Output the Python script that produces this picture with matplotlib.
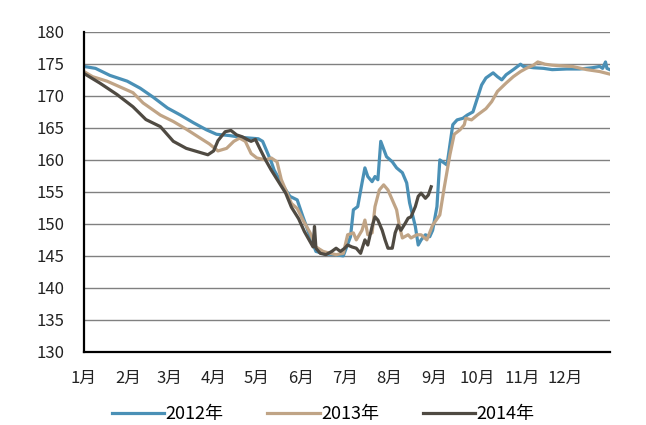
import matplotlib
matplotlib.use("Agg")
import matplotlib.pyplot as plt

plt.rcParams['font.family'] = ['Noto Sans CJK SC', 'DejaVu Sans']

## data (day of year, value)
days_2012 = [0, 8, 18, 30, 39, 48, 58, 67, 76, 85, 92, 101, 110, 121, 124, 127, 130, 132, 138,
             143, 148, 152, 157, 161, 167, 174, 180, 185, 187, 190, 193, 195, 197, 200, 202, 204,
             206, 210, 214, 217, 221, 224, 226, 230, 232, 234, 237, 240, 242, 245, 247, 252, 256,
             259, 263, 266, 270, 276, 279, 284, 287, 290, 293, 298, 303, 305, 312, 319, 325, 335,
             344, 353, 358, 360, 362, 363, 365]
vals_2012 = [174.6, 174.3, 173.2, 172.3, 171.2, 169.8, 168.1, 167.0, 165.8, 164.7, 164.0, 163.8,
             163.5, 163.3, 162.9, 161.3, 159.7, 158.4, 156.0, 154.3, 153.75, 151.1, 148.0, 145.7,
             145.3, 145.2, 145.0, 148.0, 152.2, 152.7, 156.4, 158.75, 157.4, 156.6, 157.4, 156.9,
             162.9, 160.5, 159.7, 158.75, 158.0, 156.4, 153.3, 149.6, 146.7, 147.5, 148.3, 148.0,
             149.0, 152.7, 160.0, 159.2, 165.5, 166.25, 166.5, 167.0, 167.5, 171.7, 172.8, 173.6,
             173.0, 172.5, 173.3, 174.1, 174.95, 174.6, 174.4, 174.3, 174.1, 174.2, 174.2, 174.4,
             174.6, 174.3, 175.3, 174.3, 174.1]

days_2013 = [0, 6, 16, 25, 34, 41, 53, 62, 71, 80, 87, 93, 99, 104, 108, 112, 116, 120, 126, 130,
             134, 137, 141, 144, 148, 152, 157, 161, 166, 171, 175, 180, 183, 187, 189, 193, 195,
             197, 200, 202, 205, 208, 211, 214, 217, 219, 221, 225, 227, 231, 234, 238, 242, 247,
             250, 254, 257, 261, 264, 265, 269, 273, 279, 283, 287, 293, 298, 303, 307, 312, 315,
             320, 325, 332, 339, 349, 358, 365]
vals_2013 = [173.8, 173.0, 172.3, 171.4, 170.5, 168.9, 167.0, 166.0, 164.8, 163.5, 162.5, 161.4,
             161.8, 162.9, 163.4, 162.9, 161.0, 160.3, 160.0, 160.3, 159.7, 156.9, 154.8, 153.2,
             152.4, 150.6, 148.6, 146.4, 145.7, 145.4, 145.2, 145.4, 148.3, 148.6, 147.5, 149.0,
             150.6, 148.3, 148.6, 152.7, 155.3, 156.1, 155.3, 153.75, 152.2, 149.6, 147.8, 148.3,
             147.8, 148.3, 148.3, 147.5, 149.8, 151.4, 155.6, 160.8, 164.0, 164.7, 165.5, 166.5,
             166.25, 167.0, 168.0, 169.1, 170.7, 172.0, 173.0, 173.8, 174.3, 174.8, 175.3, 174.95,
             174.8, 174.7, 174.6, 174.1, 173.8, 173.4]

days_2014 = [0, 11, 23, 34, 43, 53, 62, 71, 80, 86, 90, 93, 98, 102, 106, 110, 114, 116, 119,
             122, 126, 130, 135, 140, 144, 149, 153, 157, 159, 160, 161, 164, 168, 172, 175, 178,
             181, 183, 186, 189, 192, 195, 197, 200, 202, 204, 207, 209, 211, 214, 216, 218, 220,
             223, 225, 227, 230, 232, 234, 237, 239, 241]
vals_2014 = [173.5, 172.0, 170.2, 168.3, 166.3, 165.2, 162.9, 161.8, 161.2, 160.8, 161.4, 163.0,
             164.4, 164.6, 163.9, 163.6, 163.1, 162.9, 163.2, 161.8, 160.0, 158.4, 156.6, 154.8,
             152.6, 150.8, 148.8, 147.2, 146.4, 149.6, 146.2, 145.4, 145.2, 145.7, 146.2, 145.7,
             146.2, 146.7, 146.4, 146.2, 145.4, 147.5, 146.7, 149.6, 151.1, 150.6, 149.0, 147.5,
             146.2, 146.2, 148.6, 149.8, 149.0, 150.1, 150.9, 151.1, 152.7, 154.3, 154.8, 154.0,
             154.5, 155.8]

month_starts = [0, 31, 59, 90, 120, 151, 181, 212, 243, 273, 304, 334]
month_labels = ['1月', '2月', '3月', '4月', '5月', '6月', '7月', '8月', '9月', '10月', '11月', '12月']

## figure
fig = plt.figure(figsize=(6.46, 4.25), dpi=100)
ax = fig.add_axes([0.13, 0.172, 0.814, 0.753])

ax.plot(days_2012, vals_2012, color='#4a90b6', lw=2.3, label='2012年')
ax.plot(days_2013, vals_2013, color='#c0a486', lw=2.3, label='2013年')
ax.plot(days_2014, vals_2014, color='#4f4a42', lw=2.3, label='2014年')

ax.set_xlim(0, 365)
ax.set_ylim(130, 180)
ax.set_yticks(range(130, 181, 5))
ax.set_xticks(month_starts)
ax.set_xticklabels(month_labels)
ax.tick_params(axis='both', length=0, labelsize=12, colors='#222222')
ax.tick_params(axis='y', pad=14)
ax.tick_params(axis='x', pad=13)
ax.yaxis.grid(True, color='#808080', lw=1)
ax.set_axisbelow(True)
for s in ['top', 'right']:
    ax.spines[s].set_visible(False)
ax.spines['left'].set_linewidth(1.6)
ax.spines['bottom'].set_linewidth(1.6)

ax.legend(loc='upper center', bbox_to_anchor=(0.455, -0.115), ncol=3, frameon=False,
          fontsize=13, handlelength=2.9, columnspacing=2.4, handletextpad=0.1)

plt.savefig('out.png', dpi=100)
